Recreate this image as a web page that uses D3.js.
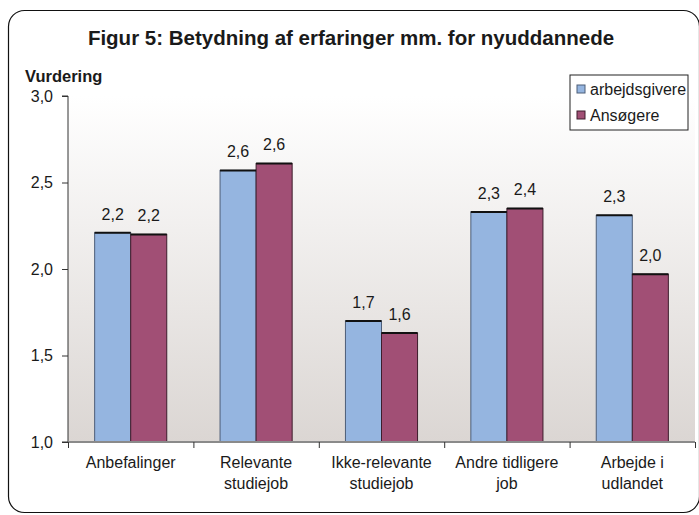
<html>
<head>
<meta charset="utf-8">
<title>Figur 5</title>
<script src="https://cdn.jsdelivr.net/npm/d3@7"></script>
<style>
  body { margin: 0; background: #fff; }
  text { font-family: "Liberation Sans", Arial, sans-serif; fill: #1a1a1a; }
</style>
</head>
<body>
<div id="chart"></div>
<script>

var categories = [ ["Anbefalinger"], ["Relevante", "studiejob"], ["Ikke-relevante", "studiejob"],
                   ["Andre tidligere", "job"], ["Arbejde i", "udlandet"] ];
var arbejdsgivere = [ 2.21, 2.57, 1.70, 2.33, 2.31 ];
var ansoegere     = [ 2.20, 2.61, 1.63, 2.35, 1.97 ];
var seriesNames = [ "arbejdsgivere", "Ansøgere" ];
var yTicks = [ 1.0, 1.5, 2.0, 2.5, 3.0 ];

var width = 699, height = 515;
var pLeft = 68, pRight = 695, pTop = 96, pBottom = 442;
var colors = [ "#95b5e0", "#a14f75" ];
var strokes = [ "#4d5e78", "#3d1d2c" ];
var fs = "16px";

var svg = d3.select("#chart").append("svg")
    .attr("width", width)
    .attr("height", height);

// outer frame
svg.append("rect")
    .attr("x", 8.5).attr("y", 10.5)
    .attr("width", 691).attr("height", 502)
    .attr("rx", 16).attr("ry", 16)
    .attr("fill", "#fff")
    .attr("stroke", "#111").attr("stroke-width", 1.2);

var grad = svg.append("defs").append("linearGradient")
    .attr("id", "bg").attr("x1", 0).attr("y1", 0).attr("x2", 0).attr("y2", 1);
grad.append("stop").attr("offset", "0%").attr("stop-color", "#ffffff");
grad.append("stop").attr("offset", "100%").attr("stop-color", "#dbd6d3");

svg.append("rect")
    .attr("x", pLeft).attr("y", pTop)
    .attr("width", pRight - pLeft).attr("height", pBottom - pTop)
    .attr("fill", "url(#bg)");

var x0 = d3.scaleBand()
    .domain(d3.range(categories.length))
    .range([pLeft, pRight])
    .paddingInner(0.425)
    .paddingOuter(0.2125);

var x1 = d3.scaleBand()
    .domain([0, 1])
    .range([0, x0.bandwidth()]);

var y = d3.scaleLinear().domain([1, 3]).range([pBottom, pTop]);

var data = categories.map(function(c, i) {
    return [ { s: 0, i: i, v: arbejdsgivere[i] }, { s: 1, i: i, v: ansoegere[i] } ];
});

var fmt = function(v) { return d3.format(".1f")(v).replace(".", ","); };

var group = svg.selectAll(".grp")
    .data(data)
  .enter().append("g")
    .attr("class", "grp")
    .attr("transform", function(d, i) { return "translate(" + x0(i) + ",0)"; });

group.selectAll(".bar")
    .data(function(d) { return d; })
  .enter().append("rect")
    .attr("class", "bar")
    .attr("x", function(d) { return x1(d.s); })
    .attr("y", function(d) { return y(d.v); })
    .attr("width", x1.bandwidth())
    .attr("height", function(d) { return pBottom - y(d.v); })
    .attr("fill", function(d) { return colors[d.s]; })
    .attr("stroke", function(d) { return strokes[d.s]; })
    .attr("stroke-width", 1);

// dark top edge
group.selectAll(".topline")
    .data(function(d) { return d; })
  .enter().append("line")
    .attr("x1", function(d) { return x1(d.s); })
    .attr("x2", function(d) { return x1(d.s) + x1.bandwidth(); })
    .attr("y1", function(d) { return y(d.v); })
    .attr("y2", function(d) { return y(d.v); })
    .attr("stroke", "#111").attr("stroke-width", 2);

group.selectAll(".val")
    .data(function(d) { return d; })
  .enter().append("text")
    .attr("x", function(d) { return x1(d.s) + x1.bandwidth() / 2; })
    .attr("y", function(d) { return y(d.v) - 13; })
    .attr("text-anchor", "middle")
    .style("font-size", fs)
    .text(function(d) { return fmt(d.v); });

// y axis
var yAxis = d3.axisLeft(y).tickValues(yTicks).tickSize(6).tickPadding(9).tickFormat(fmt);
var ya = svg.append("g").attr("transform", "translate(" + pLeft + ",0)").call(yAxis);
ya.select(".domain").attr("stroke", "#333").attr("d", "M-6," + pTop + "H0V" + pBottom + "H-6");
ya.selectAll(".tick line").attr("stroke", "#333");
ya.selectAll("text").style("font-size", fs).attr("fill", "#1a1a1a")
    .style("font-family", "Liberation Sans, Arial, sans-serif");

// x axis with ticks at category boundaries
var xb = d3.scaleLinear().domain([0, categories.length]).range([pLeft, pRight]);
var xa = svg.append("g").attr("transform", "translate(0," + pBottom + ")")
    .call(d3.axisBottom(xb).ticks(categories.length).tickSize(6).tickFormat(""));
xa.select(".domain").attr("stroke", "#8a8a8a").attr("stroke-width", 2).attr("d", "M" + pLeft + ",0H" + pRight);
xa.selectAll(".tick line").attr("stroke", "#333");

var xl = svg.selectAll(".xlab")
    .data(categories)
  .enter().append("text")
    .attr("class", "xlab")
    .attr("text-anchor", "middle")
    .attr("x", function(d, i) { return x0(i) + x0.bandwidth() / 2; })
    .attr("y", 468)
    .style("font-size", fs);
xl.selectAll("tspan")
    .data(function(d) { return d; })
  .enter().append("tspan")
    .attr("x", function() { return this.parentNode.getAttribute("x"); })
    .attr("dy", function(d, j) { return j === 0 ? 0 : 21; })
    .text(function(d) { return d; });

// title and axis title
svg.append("text")
    .attr("x", 351).attr("y", 45)
    .attr("text-anchor", "middle")
    .style("font-size", "20.5px").style("font-weight", "bold")
    .text("Figur 5: Betydning af erfaringer mm. for nyuddannede");

svg.append("text")
    .attr("x", 25).attr("y", 82)
    .style("font-size", "16.5px").style("font-weight", "bold")
    .text("Vurdering");

// legend
var lg = svg.append("g").attr("transform", "translate(570,75)");
lg.append("rect")
    .attr("width", 118).attr("height", 55)
    .attr("fill", "#fff").attr("stroke", "#222").attr("stroke-width", 1);
var li = lg.selectAll(".li")
    .data(seriesNames)
  .enter().append("g")
    .attr("transform", function(d, i) { return "translate(7," + (14 + i * 26) + ")"; });
li.append("rect")
    .attr("x", 0).attr("y", -4).attr("width", 8).attr("height", 8)
    .attr("fill", function(d, i) { return colors[i]; })
    .attr("stroke", function(d, i) { return strokes[i]; });
li.append("text")
    .attr("x", 13).attr("y", 5.5)
    .style("font-size", fs)
    .text(function(d) { return d; });

</script>
</body>
</html>
